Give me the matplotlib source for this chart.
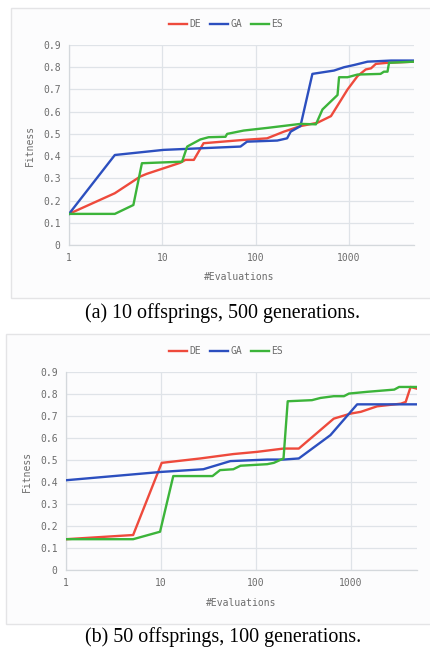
import matplotlib
matplotlib.use('Agg')
import matplotlib.pyplot as plt
from matplotlib.patches import Rectangle
from matplotlib.ticker import FixedLocator, FixedFormatter

# ---- panel (a): 10 offsprings, 500 generations ----
a_de_x = [1, 3.1, 5.8, 6.8, 15.6, 17.7, 21.8, 27.7, 75, 133, 201, 303, 460, 644, 970, 1240, 1520, 1730, 1950, 2600, 5000]
a_de_y = [0.14, 0.233, 0.308, 0.32, 0.37, 0.383, 0.383, 0.458, 0.473, 0.48, 0.51, 0.535, 0.55, 0.58, 0.70, 0.76, 0.79, 0.795, 0.815, 0.82, 0.825]
a_ga_x = [1, 3.1, 10.3, 69, 81, 171, 218, 238, 303, 407, 694, 890, 1140, 1590, 2830, 5000]
a_ga_y = [0.14, 0.405, 0.428, 0.443, 0.465, 0.47, 0.48, 0.51, 0.535, 0.77, 0.785, 0.80, 0.81, 0.825, 0.83, 0.83]
a_es_x = [1, 3.1, 4.9, 6.05, 16.3, 18.5, 25.6, 31.4, 47.6, 49.6, 74.6, 134, 303, 444, 522, 757, 786, 970, 1240, 2190, 2380, 2600, 2700, 5000]
a_es_y = [0.14, 0.14, 0.18, 0.368, 0.375, 0.443, 0.475, 0.485, 0.487, 0.50, 0.515, 0.527, 0.545, 0.543, 0.61, 0.675, 0.755, 0.755, 0.767, 0.77, 0.78, 0.78, 0.82, 0.825]

# ---- panel (b): 50 offsprings, 100 generations ----
b_de_x = [1, 5.1, 10.2, 26, 58, 103, 196, 284, 663, 1000, 1280, 1900, 3380, 3800, 4280, 5000]
b_de_y = [0.14, 0.159, 0.487, 0.507, 0.527, 0.537, 0.552, 0.552, 0.688, 0.711, 0.719, 0.744, 0.756, 0.764, 0.832, 0.824]
b_ga_x = [1, 10.2, 28, 54, 132, 196, 284, 612, 1170, 5000]
b_ga_y = [0.408, 0.446, 0.458, 0.495, 0.502, 0.502, 0.507, 0.613, 0.753, 0.753]
b_es_x = [1, 5.1, 9.8, 13.5, 35, 42, 58, 69, 132, 155, 196, 217, 391, 480, 663, 850, 960, 1500, 2880, 3240, 5000]
b_es_y = [0.14, 0.14, 0.174, 0.427, 0.427, 0.454, 0.458, 0.474, 0.481, 0.487, 0.507, 0.767, 0.772, 0.782, 0.79, 0.79, 0.802, 0.81, 0.82, 0.832, 0.832]

captions = ['(a) 10 offsprings, 500 generations.', '(b) 50 offsprings, 100 generations.']
names = ['DE', 'GA', 'ES']
colors = ['#ee4a3c', '#2c4fbf', '#3cb43a']
yticks = [0, 0.1, 0.2, 0.3, 0.4, 0.5, 0.6, 0.7, 0.8, 0.9]
ylabels = ['0', '0.1', '0.2', '0.3', '0.4', '0.5', '0.6', '0.7', '0.8', '0.9']
xticks = [1, 10, 100, 1000]
xlabels = ['1', '10', '100', '1000']

W, H = 430, 648
fig = plt.figure(figsize=(W / 100, H / 100), dpi=100)
txt = '#6c6c6c'
mono = 'DejaVu Sans Mono'

def px(x0, y0, x1, y1):
    # pixel box -> figure fraction [left, bottom, width, height]
    return [x0 / W, 1 - y1 / H, (x1 - x0) / W, (y1 - y0) / H]

panels = [
    dict(box=(11, 8, 432, 298), ax=(69, 45, 414, 245), leg=24, xl=277, xoff=-2, cap=313,
         data=[(a_de_x, a_de_y), (a_ga_x, a_ga_y), (a_es_x, a_es_y)]),
    dict(box=(6, 334, 432, 624), ax=(66, 372, 417, 570), leg=351, xl=603, xoff=0, cap=637,
         data=[(b_de_x, b_de_y), (b_ga_x, b_ga_y), (b_es_x, b_es_y)]),
]

for i, p in enumerate(panels):
    bx = p['box']
    fig.patches.append(Rectangle((bx[0] / W, 1 - bx[3] / H), (bx[2] - bx[0]) / W, (bx[3] - bx[1]) / H,
                                 transform=fig.transFigure, facecolor='#fcfcfd', edgecolor='#e4e4e6',
                                 linewidth=1.0, zorder=-10))
    ax = fig.add_axes(px(*p['ax']))
    ax.set_facecolor('none')
    lines = []
    for (xs, ys), c, n in zip(p['data'], colors, names):
        l, = ax.plot(xs, ys, color=c, linewidth=1.7, label=n, zorder=3)
        lines.append(l)
    ax.set_xscale('log')
    ax.set_xlim(1, 5000)
    ax.set_ylim(0, 0.9)
    ax.xaxis.set_major_locator(FixedLocator(xticks))
    ax.xaxis.set_major_formatter(FixedFormatter(xlabels))
    ax.xaxis.set_minor_locator(FixedLocator([]))
    ax.set_yticks(yticks)
    ax.set_yticklabels(ylabels)
    ax.grid(True, color='#dfe3e8', linewidth=0.9)
    for s in ['top', 'right']:
        ax.spines[s].set_visible(False)
    for s in ['left', 'bottom']:
        ax.spines[s].set_color('#d4d8dc')
        ax.spines[s].set_linewidth(0.9)
    ax.tick_params(length=0, labelsize=7, labelcolor=txt, pad=6)
    for lab in ax.get_xticklabels() + ax.get_yticklabels():
        lab.set_family(mono)
    ax.set_ylabel('Fitness', fontsize=7, color=txt, family=mono, labelpad=6)
    fig.text(((p['ax'][0] + p['ax'][2]) / 2 + p['xoff']) / W, 1 - p['xl'] / H, '#Evaluations',
             ha='center', va='center', fontsize=7, color=txt, family=mono)
    fig.legend(lines, names, loc='center', bbox_to_anchor=(226 / W, 1 - p['leg'] / H), ncol=3,
               frameon=False, handlelength=1.9, handletextpad=0.2, columnspacing=0.9,
               prop={'family': mono, 'size': 7}, labelcolor=txt)
    fig.text(223 / W, 1 - p['cap'] / H, captions[i], ha='center', va='center',
             fontsize=14.4, family='Liberation Serif', color='black')

fig.savefig('out.png', dpi=100)
